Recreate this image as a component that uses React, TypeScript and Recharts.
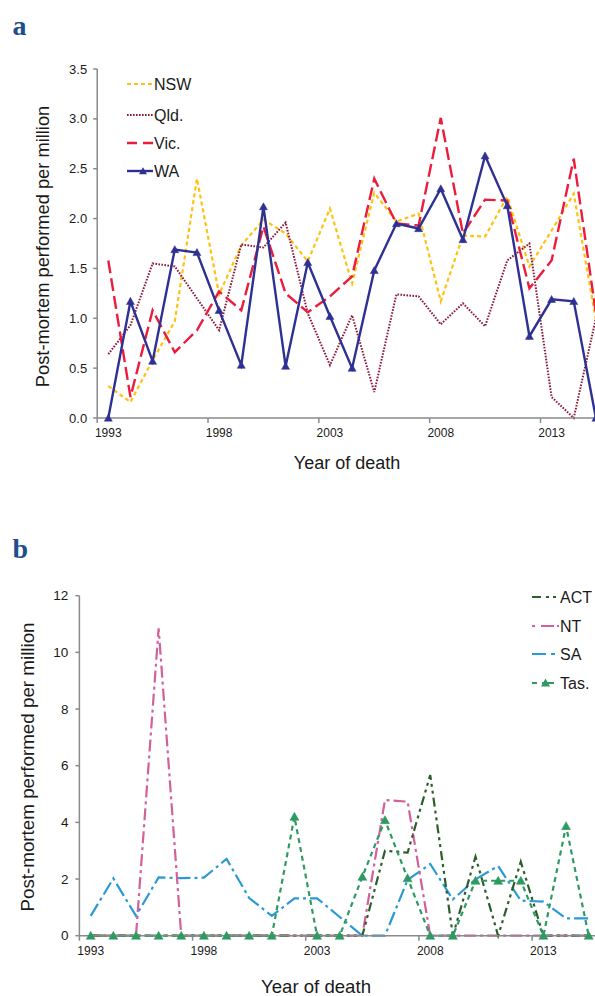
import React from 'react';
import { LineChart, Line, XAxis, YAxis } from 'recharts';

// ---------- data ----------
const years = [1993, 1994, 1995, 1996, 1997, 1998, 1999, 2000, 2001, 2002, 2003, 2004, 2005, 2006, 2007, 2008, 2009, 2010, 2011, 2012, 2013, 2014, 2015];

// panel a
const nsw = [0.32, 0.16, 0.58, 0.97, 2.40, 1.24, 1.73, 1.99, 1.85, 1.57, 2.10, 1.35, 2.26, 1.97, 2.05, 1.17, 1.83, 1.82, 2.22, 1.52, 1.88, 2.25, 0.98];
const qld = [0.64, 0.93, 1.55, 1.52, 1.20, 0.88, 1.74, 1.71, 1.96, 1.05, 0.53, 1.03, 0.26, 1.24, 1.22, 0.94, 1.15, 0.92, 1.58, 1.75, 0.21, 0.0, 1.0];
const vic = [1.58, 0.21, 1.08, 0.66, 0.88, 1.27, 1.08, 1.92, 1.25, 1.06, 1.22, 1.42, 2.40, 1.95, 1.93, 3.01, 1.85, 2.19, 2.18, 1.30, 1.58, 2.60, 1.05];
const wa = [0, 1.17, 0.57, 1.69, 1.66, 1.08, 0.53, 2.12, 0.52, 1.56, 1.02, 0.50, 1.48, 1.95, 1.90, 2.30, 1.79, 2.63, 2.13, 0.82, 1.19, 1.17, 0];

// panel b
const act = [0, 0, 0, 0, 0, 0, 0, 0, 0, 0, 0, 0, 0, 3.0, 2.93, 5.67, 0, 2.79, 0, 2.61, 0, 0, 0];
const nt = [0, 0, 0, 10.85, 0, 0, 0, 0, 0, 0, 0, 0, 0, 4.79, 4.73, 0, 0, 0, 0, 0, 0, 0, 0];
const sa = [0.7, 2.02, 0.7, 2.06, 2.03, 2.05, 2.71, 1.33, 0.7, 1.32, 1.32, 0.66, 0, 0, 1.97, 2.53, 1.28, 1.99, 2.46, 1.24, 1.2, 0.61, 0.61];
const tas = [0, 0, 0, 0, 0, 0, 0, 0, 0, 4.2, 0, 0, 2.08, 4.08, 2.03, 0, 0, 1.94, 1.94, 1.94, 0, 3.87, 0];

const xTicks = [1993, 1998, 2003, 2008, 2013];
const yTicksA = [0, 0.5, 1, 1.5, 2, 2.5, 3, 3.5];
const yTicksB = [0, 2, 4, 6, 8, 10, 12];

const dataA = years.map((year, i) => ({ year, NSW: nsw[i], Qld: qld[i], Vic: vic[i], WA: wa[i] }));
const dataB = years.map((year, i) => ({ year, ACT: act[i], NT: nt[i], SA: sa[i], Tas: tas[i] }));

// ---------- styles ----------
const AXIS = '#8a8a8a';
const FONT = '"Liberation Sans", Arial, sans-serif';
const C_NSW = '#FFC20E';
const C_QLD = '#8B1A3C';
const C_VIC = '#EC1C3C';
const C_WA = '#2E3192';
const C_ACT = '#2B5E2B';
const C_NT = '#D35F9B';
const C_SA = '#2A9AD6';
const C_TAS = '#2E9A62';

const D_NSW = '4 3';
const D_QLD = '1.6 1.4';
const D_VIC = '13 5';
const D_ACT = '9 4 3 4 3 4';
const D_NT = '12 4 3 4';
const D_SA = '14 4 3 4';
const D_TAS = '5 4';

const W = 620;

function makeXTick(half: number, axisY: number) {
  return (props: any) => {
    const { x, payload, index } = props;
    return (
      <g key={`t-${index}`}>
        <line x1={x - half} x2={x - half} y1={axisY} y2={axisY + 5} stroke={AXIS} strokeWidth={1.5} />
        <text x={x} y={axisY + 19} textAnchor="middle" fontSize={12} fill="#1a1a1a" fontFamily={FONT}>
          {payload.value}
        </text>
      </g>
    );
  };
}

function tri(color: string, w: number, h: number) {
  return (props: any) => {
    const { cx, cy, index } = props;
    if (cx == null || cy == null) return <g key={`d-${index}`} />;
    return (
      <path
        key={`d-${index}`}
        d={`M${cx},${cy - h * 0.55} L${cx + w / 2},${cy + h * 0.45} L${cx - w / 2},${cy + h * 0.45} Z`}
        fill={color}
        stroke={color}
        strokeWidth={0.5}
      />
    );
  };
}

// panel a layout
const A_H = 460;
const A_TOP = 69;
const A_BOTTOM_SPACE = 42; // plot bottom at 418
const A_AXIS_Y = A_H - A_BOTTOM_SPACE;

// panel b layout (chart placed at page y=500)
const B_OFF = 500;
const B_H = 470;
const B_TOP = 95.7;
const B_AXIS_Y = 435.7;

export default function App() {
  return (
    <div style={{ position: 'absolute', left: 0, top: 0, width: 595, height: 996, overflow: 'hidden', background: '#fff', fontFamily: FONT }}>
      <div style={{ position: 'absolute', left: 0, top: 0 }}>
        <LineChart width={W} height={A_H} data={dataA} margin={{ top: A_TOP, right: 13, bottom: A_BOTTOM_SPACE - 30, left: 57.2 }}>
          <XAxis
            dataKey="year"
            type="number"
            domain={[1992.5, 2015.5]}
            ticks={xTicks}
            height={30}
            axisLine={{ stroke: AXIS, strokeWidth: 1.5 }}
            tickLine={false}
            tickSize={5}
            tickMargin={3}
            interval={0}
            tick={makeXTick(11.08, A_AXIS_Y)}
          />
          <YAxis
            type="number"
            domain={[0, 3.5]}
            ticks={yTicksA}
            width={40}
            interval={0}
            tickFormatter={(v: number) => v.toFixed(1)}
            axisLine={{ stroke: AXIS, strokeWidth: 1.5 }}
            tickLine={{ stroke: AXIS, strokeWidth: 1.5 }}
            tickSize={4}
            tickMargin={6}
            tick={{ fontSize: 13, fill: '#1a1a1a', fontFamily: FONT }}
          />
          <Line dataKey="NSW" type="linear" stroke={C_NSW} strokeWidth={2.2} strokeDasharray={D_NSW} dot={false} activeDot={false} isAnimationActive={false} />
          <Line dataKey="Qld" type="linear" stroke={C_QLD} strokeWidth={2} strokeDasharray={D_QLD} dot={false} activeDot={false} isAnimationActive={false} />
          <Line dataKey="Vic" type="linear" stroke={C_VIC} strokeWidth={2.4} strokeDasharray={D_VIC} dot={false} activeDot={false} isAnimationActive={false} />
          <Line dataKey="WA" type="linear" stroke={C_WA} strokeWidth={2.4} dot={tri(C_WA, 8, 7)} activeDot={false} isAnimationActive={false} />
        </LineChart>
      </div>

      <div style={{ position: 'absolute', left: 0, top: B_OFF }}>
        <LineChart width={W} height={B_H} data={dataB} margin={{ top: B_TOP, right: 20, bottom: B_H - B_AXIS_Y - 30, left: 39.4 }}>
          <XAxis
            dataKey="year"
            type="number"
            domain={[1992.5, 2015.5]}
            ticks={xTicks}
            height={30}
            axisLine={{ stroke: AXIS, strokeWidth: 1.5 }}
            tickLine={false}
            tickSize={5}
            tickMargin={3}
            interval={0}
            tick={makeXTick(11.31, B_AXIS_Y)}
          />
          <YAxis
            type="number"
            domain={[0, 12]}
            ticks={yTicksB}
            width={40}
            interval={0}
            axisLine={{ stroke: AXIS, strokeWidth: 1.5 }}
            tickLine={{ stroke: AXIS, strokeWidth: 1.5 }}
            tickSize={4}
            tickMargin={7}
            tick={{ fontSize: 13.5, fill: '#1a1a1a', fontFamily: FONT }}
          />
          <Line dataKey="SA" type="linear" stroke={C_SA} strokeWidth={2.2} strokeDasharray={D_SA} dot={false} activeDot={false} isAnimationActive={false} />
          <Line dataKey="NT" type="linear" stroke={C_NT} strokeWidth={2.2} strokeDasharray={D_NT} dot={false} activeDot={false} isAnimationActive={false} />
          <Line dataKey="ACT" type="linear" stroke={C_ACT} strokeWidth={2.2} strokeDasharray={D_ACT} dot={false} activeDot={false} isAnimationActive={false} />
          <Line dataKey="Tas" type="linear" stroke={C_TAS} strokeWidth={2.2} strokeDasharray={D_TAS} dot={tri(C_TAS, 9, 8)} activeDot={false} isAnimationActive={false} />
        </LineChart>
      </div>

      <svg width={595} height={996} style={{ position: 'absolute', left: 0, top: 0, pointerEvents: 'none' }}>
        {/* panel labels */}
        <text x={12.5} y={35} fontFamily='"Liberation Serif", "DejaVu Serif", serif' fontWeight="bold" fontSize={28} fill="#1F4E8D">a</text>
        <text x={12.5} y={558} fontFamily='"Liberation Serif", "DejaVu Serif", serif' fontWeight="bold" fontSize={28} fill="#1F4E8D">b</text>

        {/* axis titles */}
        <text x={0} y={0} transform="translate(49,246.5) rotate(-90)" textAnchor="middle" fontSize={18.3} fill="#1a1a1a" fontFamily={FONT}>Post-mortem performed per million</text>
        <text x={347} y={469} textAnchor="middle" fontSize={18} fill="#1a1a1a" fontFamily={FONT}>Year of death</text>
        <text x={0} y={0} transform="translate(33.5,767) rotate(-90)" textAnchor="middle" fontSize={18.8} fill="#1a1a1a" fontFamily={FONT}>Post-mortem performed per million</text>
        <text x={316} y={993} textAnchor="middle" fontSize={18.6} fill="#1a1a1a" fontFamily={FONT}>Year of death</text>

        {/* legend a */}
        <g fontSize={16} fill="#1a1a1a" fontFamily={FONT}>
          <line x1={127} x2={153} y1={84} y2={84} stroke={C_NSW} strokeWidth={2.2} strokeDasharray={D_NSW} />
          <text x={154} y={89.7}>NSW</text>
          <line x1={127} x2={153} y1={115} y2={115} stroke={C_QLD} strokeWidth={2} strokeDasharray={D_QLD} />
          <text x={154} y={120.7}>Qld.</text>
          <line x1={127} x2={153} y1={143} y2={143} stroke={C_VIC} strokeWidth={2.4} strokeDasharray="10 6 10" />
          <text x={154} y={148.7}>Vic.</text>
          <line x1={127} x2={153} y1={171} y2={171} stroke={C_WA} strokeWidth={2.4} />
          <path d="M143,167.2 L147,174.2 L139,174.2 Z" fill={C_WA} />
          <text x={154} y={176.7}>WA</text>
        </g>

        {/* legend b */}
        <g fontSize={16} fill="#1a1a1a" fontFamily={FONT}>
          <line x1={532} x2={559} y1={597} y2={597} stroke={C_ACT} strokeWidth={2.2} strokeDasharray="9 5 3 4 3" />
          <text x={560} y={602.7}>ACT</text>
          <line x1={532} x2={559} y1={626} y2={626} stroke={C_NT} strokeWidth={2.2} strokeDasharray="3 6 13" />
          <text x={560} y={631.7}>NT</text>
          <line x1={532} x2={559} y1={654} y2={654} stroke={C_SA} strokeWidth={2.2} strokeDasharray="14 5 4" />
          <text x={560} y={659.7}>SA</text>
          <line x1={532} x2={559} y1={683} y2={683} stroke={C_TAS} strokeWidth={2.2} strokeDasharray="5 5 12 5" />
          <path d="M545.5,678.6 L550,686.6 L541,686.6 Z" fill={C_TAS} />
          <text x={560} y={688.7}>Tas.</text>
        </g>
      </svg>
    </div>
  );
}
